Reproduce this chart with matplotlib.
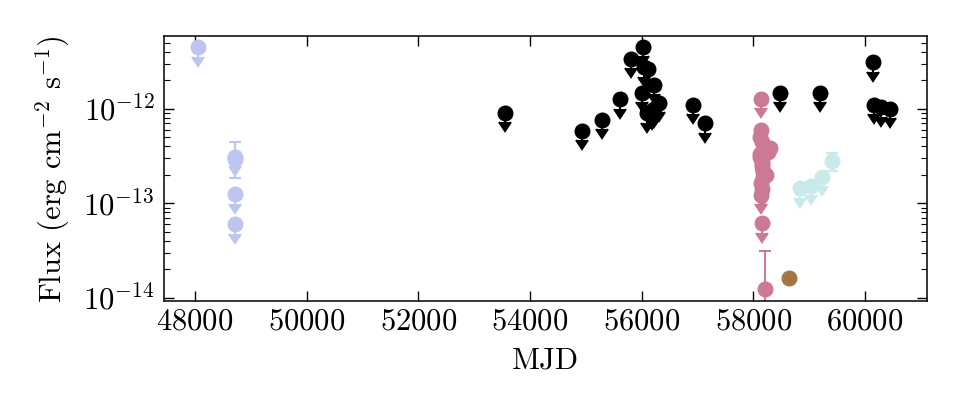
"""
Long-term X-ray light curve: flux vs MJD, upper limits as arrows
"""

import numpy as np
import matplotlib
matplotlib.use('Agg')
import matplotlib.pyplot as plt

plt.rcParams['font.family'] = 'serif'
plt.rcParams['font.serif'] = ['cmr10', 'DejaVu Serif']
plt.rcParams['mathtext.fontset'] = 'cm'
plt.rcParams['axes.formatter.use_mathtext'] = True
plt.rcParams['axes.unicode_minus'] = False
plt.rcParams['font.size'] = 22

# light blue (early) : upper limits and one detection
blue_ul_mjd = [48060, 48717, 48717, 48717]
blue_ul_flux = [4.45e-12, 3.1e-13, 1.24e-13, 5.95e-14]
blue_det_mjd = [48717]
blue_det_flux = [2.9e-13]
blue_det_lo = [1.05e-13]
blue_det_hi = [1.55e-13]

# black upper limits
black_ul_mjd = [53556, 54930, 55288, 55622, 55808, 56035, 56047, 56125, 56017,
                56232, 56315, 56215, 56095, 56180, 56930, 57140, 58472, 59190,
                60138, 60157, 60294, 60443]
black_ul_flux = [9.1e-13, 5.8e-13, 7.55e-13, 1.25e-12, 3.37e-12, 4.5e-12, 2.73e-12,
                 2.6e-12, 1.47e-12, 1.78e-12, 1.15e-12, 9.9e-13, 8.9e-13, 9.5e-13,
                 1.09e-12, 6.97e-13, 1.47e-12, 1.47e-12, 3.08e-12, 1.09e-12,
                 1.03e-12, 9.9e-13]

# pink cluster
pink_ul_mjd = [58140, 58150, 58170, 58160, 58140, 58160]
pink_ul_flux = [1.26e-12, 2.72e-13, 1.88e-13, 1.41e-13, 1.22e-13, 6.1e-14]
pink_det_mjd = [58140, 58130, 58150, 58300, 58270, 58120, 58150, 58180, 58140,
                58160, 58230, 58130, 58215]
pink_det_flux = [5.92e-13, 4.99e-13, 4.43e-13, 3.82e-13, 3.47e-13, 3.07e-13, 2.4e-13,
                 2.13e-13, 1.63e-13, 2.6e-13, 2.0e-13, 3.3e-13, 1.25e-14]
pink_det_lo = [0, 0, 0, 0, 0, 0, 0, 0, 0, 0, 0, 0, 1.24e-14]
pink_det_hi = [0, 0, 0, 0, 0, 0, 0, 0, 0, 0, 0, 0, 1.9e-14]

# brown single detection
brown_mjd = [58633]
brown_flux = [1.62e-14]

# light cyan
cyan_ul_mjd = [58842, 59033, 59230]
cyan_ul_flux = [1.43e-13, 1.51e-13, 1.9e-13]
cyan_det_mjd = [59420]
cyan_det_flux = [2.78e-13]
cyan_det_lo = [0.58e-13]
cyan_det_hi = [0.63e-13]

c_blue = '#bcc6ef'
c_black = 'black'
c_pink = '#cc7a93'
c_brown = '#a57645'
c_cyan = '#c9eaea'

fig = plt.figure(figsize=(9.6, 4.2), dpi=100)
ax = fig.add_axes([0.171, 0.283, 0.795, 0.631])

ms = 10.5
cs = 4.5


def upper(x, y, color):
    y = np.asarray(y)
    ax.errorbar(x, y, yerr=0.2 * y, uplims=True, fmt='o', color=color,
                ms=ms, capsize=cs, elinewidth=1.5, capthick=1.5)


def detect(x, y, lo, hi, color):
    ax.errorbar(x, y, yerr=[lo, hi], fmt='o', color=color,
                ms=ms, capsize=cs, elinewidth=1.5, capthick=1.5)


upper(blue_ul_mjd, blue_ul_flux, c_blue)
detect(blue_det_mjd, blue_det_flux, blue_det_lo, blue_det_hi, c_blue)
upper(black_ul_mjd, black_ul_flux, c_black)
upper(pink_ul_mjd, pink_ul_flux, c_pink)
detect(pink_det_mjd, pink_det_flux, pink_det_lo, pink_det_hi, c_pink)
detect(brown_mjd, brown_flux, [0], [0], c_brown)
upper(cyan_ul_mjd, cyan_ul_flux, c_cyan)
detect(cyan_det_mjd, cyan_det_flux, cyan_det_lo, cyan_det_hi, c_cyan)

ax.set_yscale('log')
ax.set_xlim(47450, 61120)
ax.set_ylim(9.2e-15, 5.85e-12)
ax.set_xticks([48000, 50000, 52000, 54000, 56000, 58000, 60000])
ax.tick_params(which='both', direction='in', top=True, right=True)
ax.tick_params(which='major', length=7, width=1, pad=7)
ax.tick_params(axis='x', which='major', pad=5)
ax.tick_params(which='minor', length=4, width=0.8)
ax.tick_params(axis='x', which='minor', top=False, bottom=False)
for s in ax.spines.values():
    s.set_linewidth(1.1)

ax.set_xlabel('MJD', labelpad=8)
ax.set_ylabel(r'Flux (erg cm$^{-2}$ s$^{-1}$)', labelpad=8)

fig.savefig('out.png', dpi=100)
